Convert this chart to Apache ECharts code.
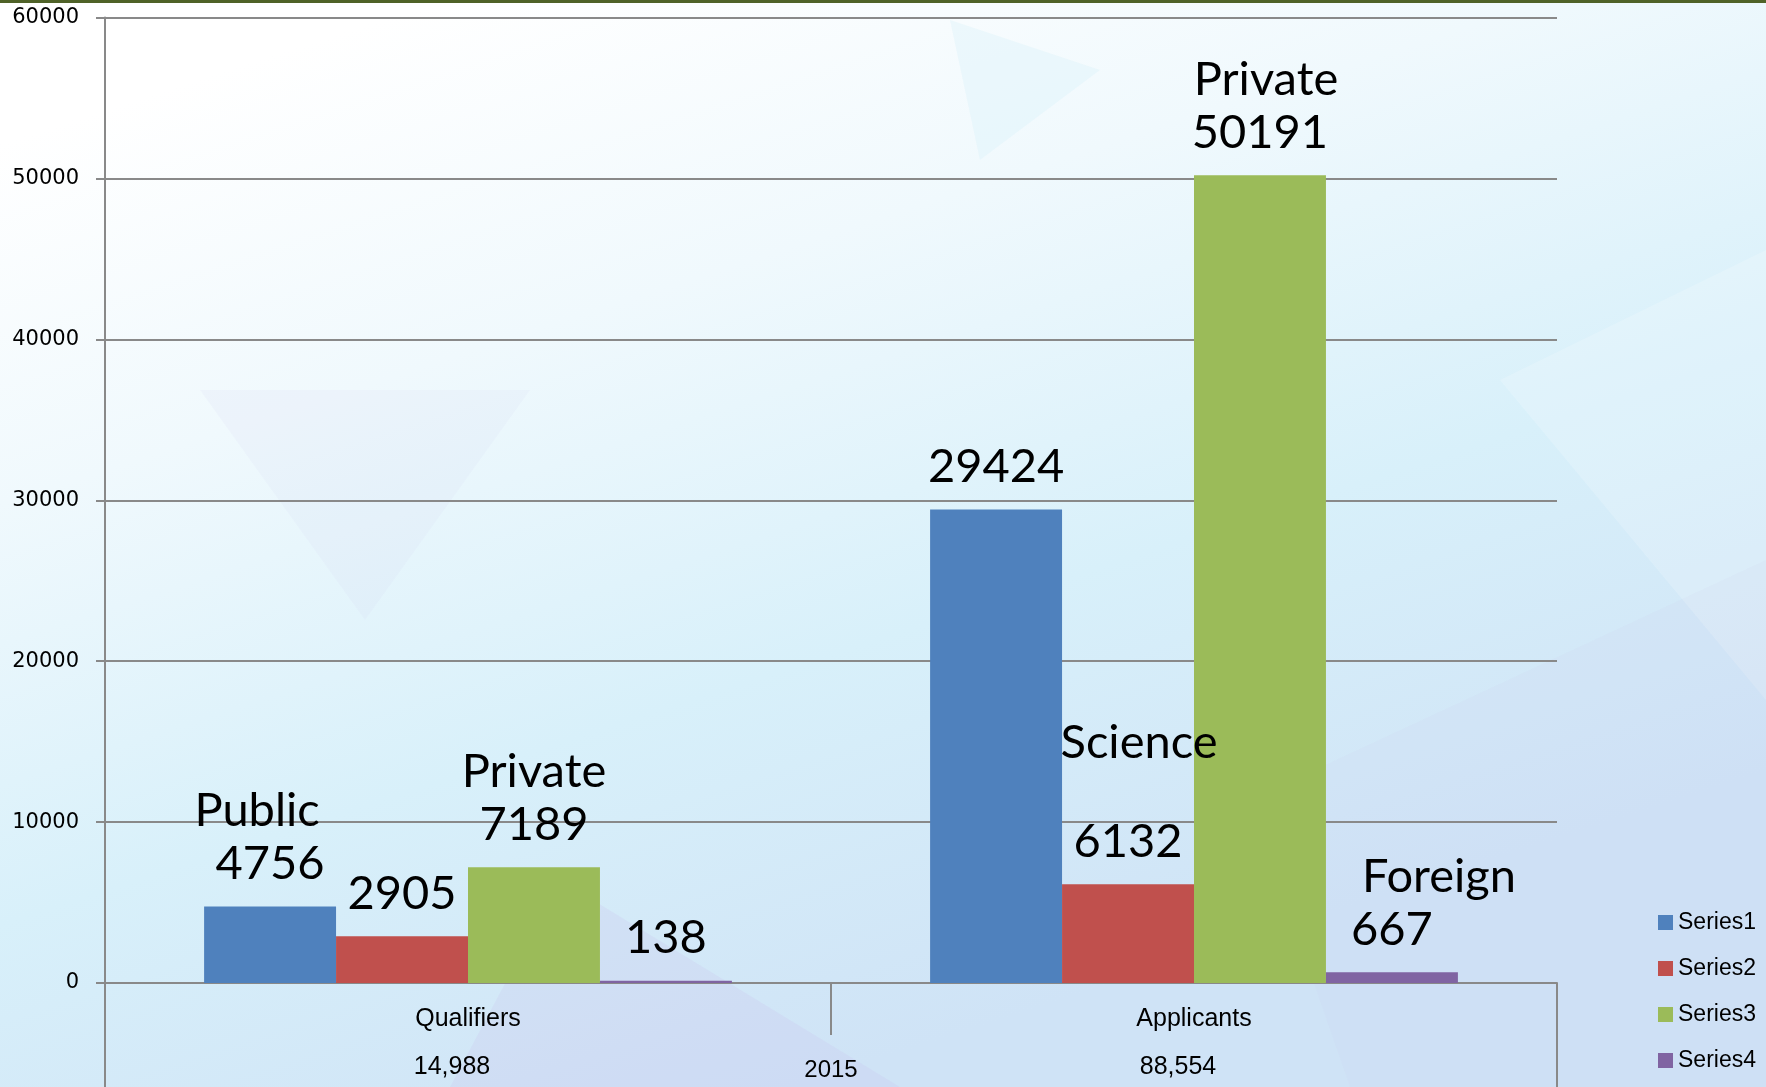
<!DOCTYPE html>
<html>
<head>
<meta charset="utf-8">
<script src="https://cdn.jsdelivr.net/npm/echarts@6/dist/echarts.min.js"></script>
<style>
html,body{margin:0;padding:0;background:#fff;}
#chart{width:1766px;height:1087px;}
</style>
</head>
<body>
<div id="chart"></div>
<script>
// ---- data ----
const categories = ['Qualifiers', 'Applicants'];
const categoryTotals = ['14,988', '88,554'];
const groupLabels = ['2015'];
const seriesNames = ['Series1', 'Series2', 'Series3', 'Series4'];
const series1 = [4756, 29424];
const series2 = [2905, 6132];
const series3 = [7189, 50191];
const series4 = [138, 667];
const labelWords1 = ['Public', ''];
const labelWords2 = ['', 'Science'];
const labelWords3 = ['Private', 'Private'];
const labelWords4 = ['', 'Foreign'];
const yMin = 0, yMax = 60000, yStep = 10000;

// ---- styles ----
const colors = ['#4f81bd', '#c0504d', '#9bbb59', '#8064a2'];
const labelFont = 'Lato, "Liberation Sans", sans-serif';
// style per [series index][category index] word line
const wordPadding = {
  '0_0': { padding: [0, 26, 0, 0] },
  '1_1': { padding: [0, 0, 0, 22], lineHeight: 144 },
  '2_0': { padding: [0, 0, 0, 0] },
  '2_1': { padding: [0, 0, 0, 12] },
  '3_1': { padding: [0, 0, 0, 94] }
};
const richBase = { fontSize: 47, fontFamily: labelFont, color: '#000', lineHeight: 53 };
const rich = { v: Object.assign({}, richBase) };
Object.keys(wordPadding).forEach(function (k) {
  rich['w' + k] = Object.assign({}, richBase, wordPadding[k]);
});

function buildData(values, words, si) {
  return values.map(function (v, i) {
    const w = words[i];
    return {
      value: v,
      label: {
        formatter: (w ? '{w' + si + '_' + i + '|' + w + '}\n' : '') + '{v|' + v + '}'
      }
    };
  });
}

const allValues = [series1, series2, series3, series4];
const allWords = [labelWords1, labelWords2, labelWords3, labelWords4];

const gridColor = '#898989';
const axisFont = '"Liberation Sans", sans-serif';

const option = {
  backgroundColor: {
    type: 'linear', x: 0.25, y: 0, x2: 0.45, y2: 1,
    colorStops: [
      { offset: 0, color: '#ffffff' },
      { offset: 0.3, color: '#f0f9fd' },
      { offset: 0.65, color: '#d8f0fa' },
      { offset: 1, color: '#cfe3f6' }
    ]
  },
  animation: false,
  graphic: [
    { type: 'rect', left: 0, top: 0, z: 100, shape: { width: 1766, height: 3 }, style: { fill: '#4f6228' } },
    { type: 'polygon', z: -5, silent: true, shape: { points: [[200, 390], [530, 390], [365, 620]] }, style: { fill: 'rgba(210,210,240,0.13)' } },
    { type: 'polygon', z: -5, silent: true, shape: { points: [[560, 880], [900, 1087], [450, 1087]] }, style: { fill: 'rgba(200,190,235,0.22)' } },
    { type: 'polygon', z: -5, silent: true, shape: { points: [[1500, 380], [1766, 250], [1766, 700]] }, style: { fill: 'rgba(255,255,255,0.18)' } },
    { type: 'polygon', z: -5, silent: true, shape: { points: [[950, 20], [1100, 70], [980, 160]] }, style: { fill: 'rgba(215,240,250,0.35)' } },
    { type: 'polygon', z: -5, silent: true, shape: { points: [[1250, 800], [1766, 560], [1766, 1087], [1350, 1087]] }, style: { fill: 'rgba(205,205,240,0.12)' } }
  ],
  grid: { left: 105, right: 209, top: 17.5, bottom: 104, containLabel: false },
  legend: {
    orient: 'vertical',
    left: 1653, top: 906,
    itemWidth: 15, itemHeight: 15, itemGap: 23,
    icon: 'rect',
    textStyle: { fontFamily: axisFont, fontSize: 23, color: '#000' },
    data: seriesNames
  },
  xAxis: [
    {
      type: 'category',
      data: categories,
      position: 'bottom',
      axisLine: { show: true, lineStyle: { color: gridColor, width: 2 } },
      axisTick: { show: true, length: 52, lineStyle: { color: gridColor, width: 2 } },
      axisLabel: {
        margin: 12,
        formatter: function (val, idx) {
          return '{c|' + val + '}\n{t|' + categoryTotals[idx] + '}';
        },
        rich: {
          c: { fontFamily: axisFont, fontSize: 25, color: '#000', lineHeight: 48 },
          t: { fontFamily: axisFont, fontSize: 25, color: '#000', lineHeight: 48, padding: [0, 32, 0, 0] }
        }
      }
    },
    {
      type: 'category',
      data: groupLabels,
      position: 'bottom',
      axisLine: { show: false },
      axisTick: { show: true, length: 110, lineStyle: { color: gridColor, width: 2 } },
      axisLabel: {
        margin: 75,
        fontFamily: axisFont, fontSize: 24, color: '#000'
      }
    }
  ],
  yAxis: {
    type: 'value',
    min: yMin, max: yMax, interval: yStep,
    axisLine: { show: true, lineStyle: { color: gridColor, width: 2 } },
    axisTick: { show: true, length: 9, lineStyle: { color: gridColor, width: 2 } },
    splitLine: { show: true, lineStyle: { color: gridColor, width: 2 } },
    axisLabel: {
      margin: 26, fontFamily: '"DejaVu Sans", sans-serif', fontSize: 21, color: '#000',
      formatter: function (v) { return String(v); }
    }
  },
  series: seriesNames.map(function (name, si) {
    return {
      name: name,
      type: 'bar',
      xAxisIndex: 0,
      barGap: '0%',
      barCategoryGap: '27.3%',
      itemStyle: { color: colors[si] },
      label: { show: true, position: 'top', distance: 16, rich: rich },
      data: buildData(allValues[si], allWords[si], si)
    };
  })
};

const chart = echarts.init(document.getElementById('chart'), null, { renderer: 'canvas' });
chart.setOption(option);
</script>
</body>
</html>
